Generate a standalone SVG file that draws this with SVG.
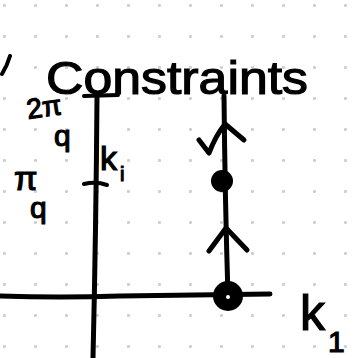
<svg xmlns="http://www.w3.org/2000/svg" width="356" height="358" viewBox="0 0 356 358">
<defs>
<pattern id="dots" x="3" y="4" width="31" height="31" patternUnits="userSpaceOnUse">
<circle cx="1.5" cy="1.5" r="1.6" fill="#cfcfcf"/>
</pattern>
<style>
.ink{fill:none;stroke:#000;stroke-linecap:round;stroke-linejoin:round}
.hand{font-family:"Liberation Sans","DejaVu Sans",sans-serif;fill:#000;stroke:#000;stroke-width:1.2}
</style>
</defs>
<rect width="356" height="358" fill="#fff"/>
<rect width="356" height="358" fill="url(#dots)"/>
<g id="title">
<path class="ink" stroke-width="4" d="M2 74 Q7 66 10 56"/>
<text class="hand" x="46" y="94" font-size="46" textLength="262" lengthAdjust="spacingAndGlyphs">Constraints</text>
</g>
<g id="axes">
<path class="ink" stroke-width="5" d="M0 296 Q60 298 120 296 Q200 295 270 294"/>
<path class="ink" stroke-width="5" d="M97 97 Q96 230 93 358"/>
<path class="ink" stroke-width="4" d="M84 96 L118 95"/>
<path class="ink" stroke-width="4" d="M84 184 Q96 181 107 185"/>
</g>
<g id="labels">
<text class="hand" x="28" y="119" font-size="28" transform="rotate(-8 28 119)">2π</text>
<text class="hand" x="54" y="146" font-size="30">q</text>
<text class="hand" x="14" y="190" font-size="34">π</text>
<text class="hand" x="30" y="218" font-size="30">q</text>
<text class="hand" x="100" y="170" font-size="34">k</text>
<text class="hand" x="120" y="181" font-size="20">i</text>
<text class="hand" x="300" y="330" font-size="50">k</text>
<text class="hand" x="328" y="352" font-size="30">1</text>
</g>
<g id="flow-line">
<path class="ink" stroke-width="5" d="M224 96 Q225 200 228 296"/>
<path class="ink" stroke-width="5" d="M199 140 L209 153 Q216 135 225 124 L244 140"/>
<path class="ink" stroke-width="5" d="M209 251 L226 228 L247 250"/>
</g>
<g id="points">
<circle cx="222" cy="181" r="11" fill="#000"/>
<circle cx="228" cy="296" r="15" fill="#000"/>
<circle cx="228" cy="297" r="2" fill="#fff"/>
</g>
</svg>
